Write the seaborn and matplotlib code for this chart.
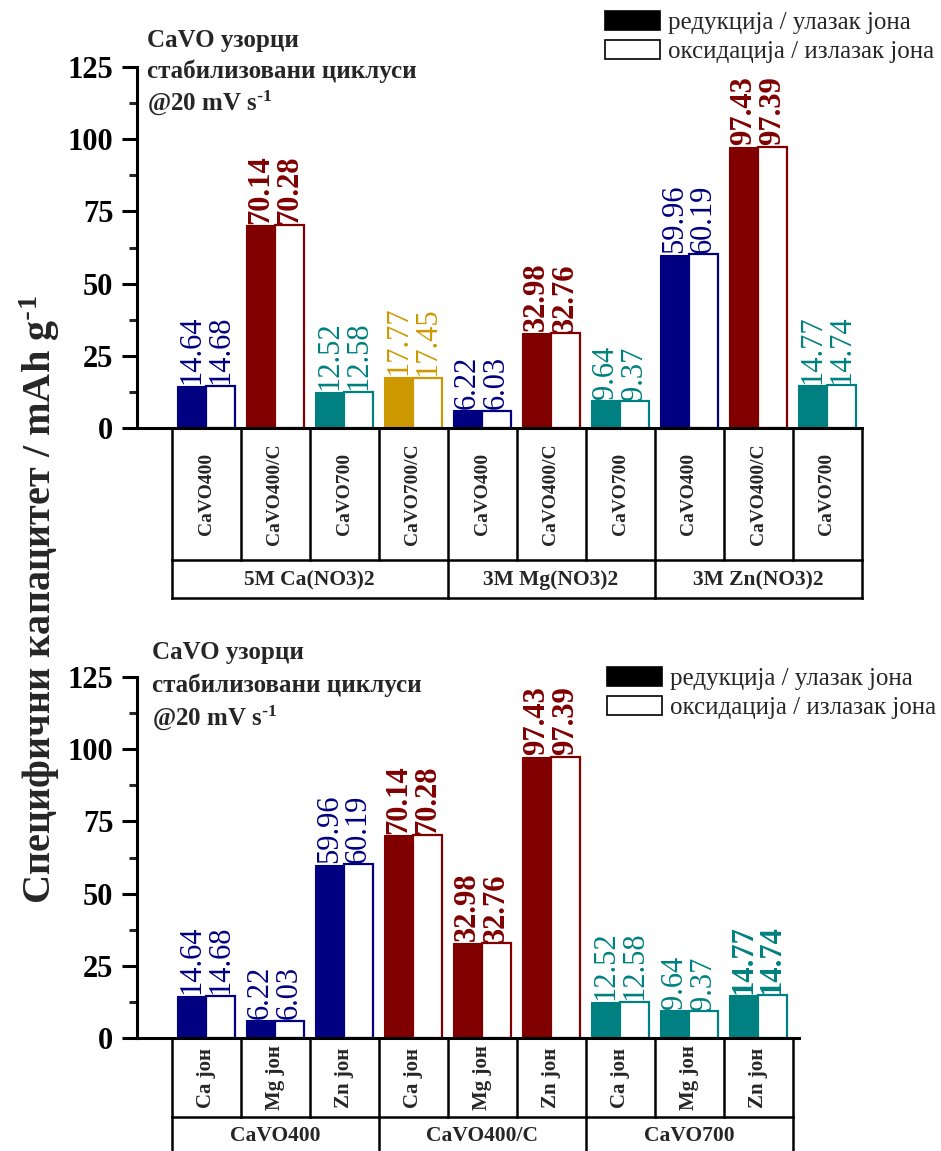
import numpy as np
import pandas as pd
import matplotlib
matplotlib.use("Agg")
import matplotlib.pyplot as plt
import matplotlib.transforms as mtransforms
from matplotlib.patches import Patch
from matplotlib.ticker import MultipleLocator
import seaborn as sns

# ---------------- data ----------------
# top panel
top_samples = ["CaVO400", "CaVO400/C", "CaVO700", "CaVO700/C",
               "CaVO400", "CaVO400/C", "CaVO700",
               "CaVO400", "CaVO400/C", "CaVO700"]
top_groups = ["5M Ca(NO3)2", "3M Mg(NO3)2", "3M Zn(NO3)2"]
top_group_sizes = [4, 3, 3]
top_red = [14.64, 70.14, 12.52, 17.77, 6.22, 32.98, 9.64, 59.96, 97.43, 14.77]
top_ox = [14.68, 70.28, 12.58, 17.45, 6.03, 32.76, 9.37, 60.19, 97.39, 14.74]
top_colors = ["#000080", "#800000", "#008080", "#CC9900",
              "#000080", "#800000", "#008080",
              "#000080", "#800000", "#008080"]
top_bold = [False, True, False, False, False, True, False, False, True, False]

# bottom panel
bot_ions = ["Ca јон", "Mg јон", "Zn јон"] * 3
bot_groups = ["CaVO400", "CaVO400/C", "CaVO700"]
bot_group_sizes = [3, 3, 3]
bot_red = [14.64, 6.22, 59.96, 70.14, 32.98, 97.43, 12.52, 9.64, 14.77]
bot_ox = [14.68, 6.03, 60.19, 70.28, 32.76, 97.39, 12.58, 9.37, 14.74]
bot_colors = ["#000080"] * 3 + ["#800000"] * 3 + ["#008080"] * 3
bot_bold = [False, False, False, True, True, True, False, False, True]

series_names = ["редукција / улазак јона", "оксидација / излазак јона"]
ylabel = "Специфични капацитет / mAh g$^{\\text{-}1}$"
note_lines = ["CaVO узорци", "стабилизовани циклуси", "@20 mV s$^{\\text{-}1}$"]

# ---------------- style ----------------
sns.set_theme(style="ticks")
plt.rcParams["font.family"] = ["Liberation Serif", "DejaVu Serif"]
plt.rcParams["mathtext.default"] = "regular"

W, H = 941, 1151
fig = plt.figure(figsize=(W / 100, H / 100), dpi=100)


def fy(p):
    return 1 - p / H


def fx(p):
    return p / W


UNIT = 69.0  # px per category


def make_panel(ax_rect, xmax, red, ox, colors, bold, cell_labels, groups,
               group_sizes, y_row1, y_row2, y_bottom, row1_fs, note_xy,
               note_pitch, leg_xy):
    ax = fig.add_axes(ax_rect)
    n = len(red)
    keys = [f"k{i:02d}" for i in range(n)]
    df = pd.DataFrame({
        "key": keys * 2,
        "value": list(red) + list(ox),
        "series": [series_names[0]] * n + [series_names[1]] * n,
    })
    sns.barplot(data=df, x="key", y="value", hue="series", order=keys,
                hue_order=series_names, width=0.84, errorbar=None,
                palette=["black", "white"], saturation=1, legend=False, ax=ax)
    for ci, cont in enumerate(ax.containers):
        for i, bar in enumerate(cont):
            c = colors[i]
            if ci == 0:
                bar.set_facecolor(c)
                bar.set_edgecolor(c)
                bar.set_linewidth(0.8)
            else:
                bar.set_facecolor("white")
                bar.set_edgecolor(c)
                bar.set_linewidth(1.6)
        vals = red if ci == 0 else ox
        texts = ax.bar_label(cont, labels=[f"{v:.2f}" for v in vals],
                             rotation=90, padding=1, fontsize=22)
        for i, t in enumerate(texts):
            t.set_color(colors[i])
            t.set_fontweight("bold" if bold[i] else "normal")

    ax.set_ylim(0, 125)
    ax.set_xlim(-1, xmax)
    ax.yaxis.set_major_locator(MultipleLocator(25))
    ax.yaxis.set_minor_locator(MultipleLocator(12.5))
    ax.set_xticks([])
    ax.set_xlabel("")
    ax.set_ylabel("")
    sns.despine(ax=ax)
    for s in ["left", "bottom"]:
        ax.spines[s].set_linewidth(2.2)
        ax.spines[s].set_color("black")
    ax.tick_params(axis="y", which="major", length=11, width=2.2,
                   direction="out", pad=6, labelsize=22, colors="black")
    ax.tick_params(axis="y", which="minor", length=6, width=2.2,
                   direction="out", left=True)
    for lab in ax.get_yticklabels():
        lab.set_fontweight("bold")

    # table below axis
    tr = mtransforms.blended_transform_factory(ax.transData, fig.transFigure)
    lw = 1.8
    kw = dict(color="black", lw=lw, transform=tr, clip_on=False,
              solid_capstyle="projecting")
    y_axis = fy(y_row1[0])
    y_mid = fy(y_row1[1])
    y_bot = fy(y_bottom)
    left, right = -0.5, n - 0.5
    for b in np.arange(left, right + 0.01, 1.0):
        ax.plot([b, b], [y_axis, y_mid], **kw)
    ax.plot([left, right], [y_mid, y_mid], **kw)
    ax.plot([left, right], [y_bot, y_bot], **kw)
    edges = np.concatenate([[0], np.cumsum(group_sizes)]) - 0.5
    for b in edges:
        ax.plot([b, b], [y_mid, y_bot], **kw)
    for i, lab in enumerate(cell_labels):
        ax.text(i, (y_axis + y_mid) / 2, lab, rotation=90, ha="center",
                va="center", fontsize=row1_fs, fontweight="bold",
                transform=tr)
    for g, lab in enumerate(groups):
        ax.text((edges[g] + edges[g + 1]) / 2, fy(y_row2), lab, ha="center",
                va="center", fontsize=15.5, fontweight="bold", transform=tr)

    # notes
    nx, ny = note_xy
    for k, line in enumerate(note_lines):
        fig.text(fx(nx), fy(ny + k * note_pitch), line, ha="left",
                 va="center", fontsize=18, fontweight="bold")

    # legend
    handles = [Patch(facecolor="black", edgecolor="black", linewidth=1.2),
               Patch(facecolor="white", edgecolor="black", linewidth=1.2)]
    fig.legend(handles, series_names, loc="upper left",
               bbox_to_anchor=(fx(leg_xy[0]), fy(leg_xy[1])),
               frameon=False, fontsize=18, handlelength=2.2,
               handleheight=0.8, handletextpad=0.3, labelspacing=0.22,
               borderpad=0, borderaxespad=0)
    return ax


ax_left = fx(137)
# top panel
make_panel([ax_left, fy(428), fx(137 + 10.5 * UNIT) - ax_left, (428 - 67) / H],
           9.5, top_red, top_ox, top_colors, top_bold, top_samples,
           top_groups, top_group_sizes, (428, 560), 580, 598, 14,
           (147, 40), 31.5, (605, 11))
# bottom panel
make_panel([ax_left, fy(1038), fx(137 + 9.6 * UNIT) - ax_left, (1038 - 677) / H],
           8.6, bot_red, bot_ox, bot_colors, bot_bold, bot_ions,
           bot_groups, bot_group_sizes, (1038, 1117), 1136, 1156, 15,
           (152, 652), 33, (607, 667))

fig.text(fx(40), fy(600), ylabel, rotation=90, ha="center", va="center",
         fontsize=29, fontweight="bold")

fig.savefig("out.png", dpi=100, facecolor="white")
